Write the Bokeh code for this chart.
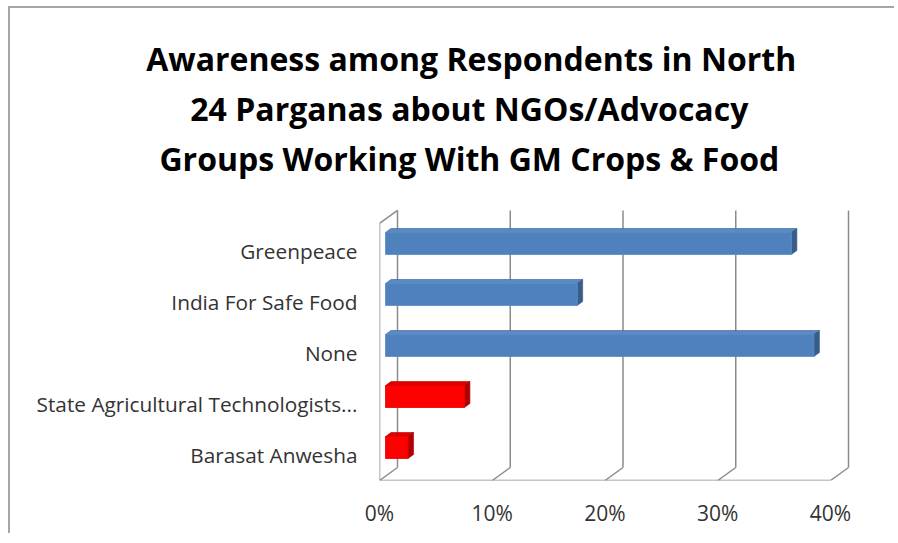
from bokeh.plotting import figure
from bokeh.models import Range1d, FixedTicker, PrintfTickFormatter, Title
from bokeh.embed import file_html
from bokeh.resources import INLINE

# ---- data ----
categories = ["Greenpeace", "India For Safe Food", "None",
              "State Agricultural Technologists...", "Barasat Anwesha"]
values = [36, 17, 38, 7, 2]          # percent of respondents
series = ["A", "A", "A", "B", "B"]   # colour group of each bar
x_ticks = [0, 10, 20, 30, 40]
title_lines = ["Awareness among Respondents in North",
               "24 Parganas about NGOs/Advocacy",
               "Groups Working With GM Crops & Food"]

# ---- styles ----
face_col = {"A": "#4F81BD", "B": "#FF0000"}
side_col = {"A": "#385D8A", "B": "#B00000"}
top_col = {"A": "#5A8AC6", "B": "#E00000"}
grid_col = "#8C8C8C"

PX_X = 11.275     # px per percent
PX_Y = 51.0       # px per category
DX = 18 / PX_X    # depth of the 3-D box (x)
DY = 13 / PX_Y    # depth of the 3-D box (y)
BAR_OFF_X = 6 / PX_X
BAR_OFF_Y = 7.5 / PX_Y
BAR_H = 22 / PX_Y
BDX = 5.5 / PX_X
BDY = 4 / PX_Y
TOP = 4.54

BORDER_TOP = 176
FRAME_H = 296
TITLE_FS = 32
# approximate rendered widths of the title lines (Open Sans bold, measured at 29px, scaled)
title_w = [586 * TITLE_FS / 29, 506 * TITLE_FS / 29, 562 * TITLE_FS / 29]
title_standoff = [10, 0, 10]
TITLE_CX = 90     # title centre, px right of the frame's left edge

n = len(categories)
ys = [n - 1 - i for i in range(n)]

p = figure(width=886, height=BORDER_TOP + FRAME_H + 55, output_backend="svg",
           toolbar_location=None,
           x_range=Range1d(0, 491 / PX_X), y_range=Range1d(-0.5, -0.5 + FRAME_H / PX_Y),
           min_border_left=369, min_border_right=26, min_border_top=BORDER_TOP,
           min_border_bottom=55)
p.styles = {"border-top": "2px solid #A6A6A6", "border-left": "2px solid #A6A6A6",
            "margin-left": "8px", "margin-top": "6px"}
p.outline_line_color = None
p.grid.visible = False

# ---- title (bottom line added first: first added sits closest to the plot) ----
for i in reversed(range(len(title_lines))):
    p.add_layout(Title(text=title_lines[i], align="left",
                       offset=TITLE_CX - title_w[i] / 2,
                       standoff=title_standoff[i],
                       text_font="Open Sans", text_font_style="bold",
                       text_font_size=f"{TITLE_FS}px", text_color="#000000"), "above")

# 3-D box: back-wall gridlines, floor, left wall
x0s = [tk + DX for tk in x_ticks]
p.segment(x0=x0s, y0=[-0.5 + DY] * len(x_ticks), x1=x0s, y1=[TOP + DY] * len(x_ticks),
          line_color=grid_col, line_width=1.5)
p.segment(x0=x_ticks, y0=[-0.5] * len(x_ticks), x1=x0s, y1=[-0.5 + DY] * len(x_ticks),
          line_color=grid_col, line_width=1.5)
p.line(x=[x_ticks[0], x_ticks[-1]], y=[-0.5, -0.5], line_color=grid_col, line_width=1.5)
p.line(x=[x_ticks[0], x_ticks[0], x_ticks[0] + DX], y=[-0.5, TOP, TOP + DY],
       line_color=grid_col, line_width=1.5)

# bars
for yv, v, s in zip(ys, values, series):
    yb = yv + BAR_OFF_Y - BAR_H / 2
    yt = yv + BAR_OFF_Y + BAR_H / 2
    xl = BAR_OFF_X
    xr = BAR_OFF_X + v
    p.patch(x=[xl, xr, xr + BDX, xl + BDX], y=[yt, yt, yt + BDY, yt + BDY],
            fill_color=top_col[s], line_color=side_col[s], line_width=0.6)
    p.patch(x=[xr, xr + BDX, xr + BDX, xr], y=[yb, yb + BDY, yt + BDY, yt],
            fill_color=side_col[s], line_color=side_col[s], line_width=0.6)
    p.quad(left=[xl], right=[xr], bottom=[yb], top=[yt],
           fill_color=face_col[s], line_color=top_col[s], line_width=0.8)

# axes
p.xaxis.ticker = FixedTicker(ticks=x_ticks)
p.xaxis.formatter = PrintfTickFormatter(format="%d%%")
p.xaxis.axis_line_color = None
p.xaxis.major_tick_line_color = None
p.xaxis.minor_tick_line_color = None
p.xaxis.major_label_standoff = 12
p.xaxis.major_label_text_font = "Open Sans"
p.xaxis.major_label_text_font_size = "21px"
p.xaxis.major_label_text_color = "#333333"

p.yaxis.ticker = FixedTicker(ticks=ys)
p.yaxis.major_label_overrides = {yv: c for yv, c in zip(ys, categories)}
p.yaxis.axis_line_color = None
p.yaxis.major_tick_line_color = None
p.yaxis.minor_tick_line_color = None
p.yaxis.major_label_standoff = 16
p.yaxis.major_label_text_font = "Open Sans"
p.yaxis.major_label_text_font_size = "20.8px"
p.yaxis.major_label_text_color = "#333333"

open("out.html", "w").write(file_html(p, INLINE))
